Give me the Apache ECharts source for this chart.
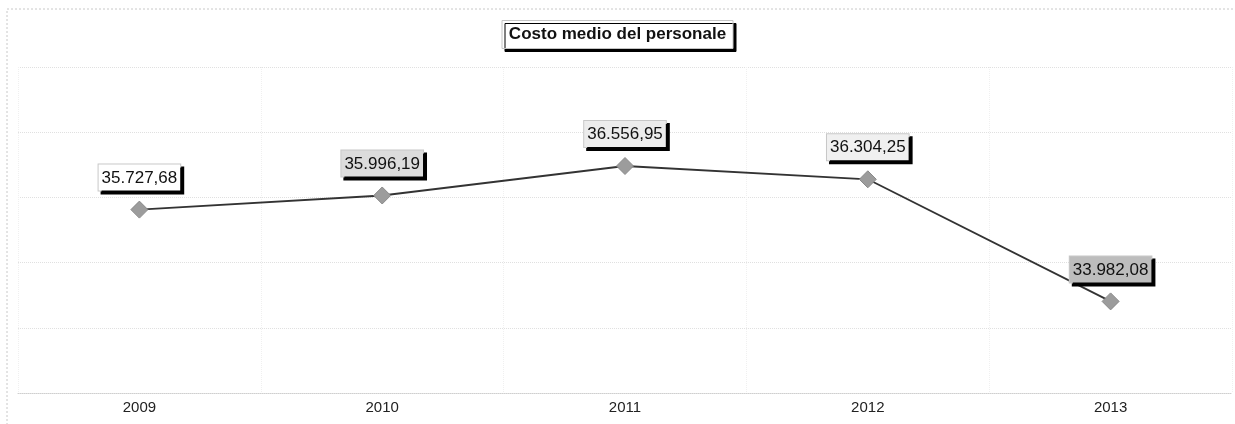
<!DOCTYPE html>
<html><head><meta charset="utf-8">
<script src="https://cdn.jsdelivr.net/npm/echarts@6/dist/echarts.min.js"></script>
<style>html,body{margin:0;padding:0;background:#fff}#c{width:1235px;height:424px}</style>
</head><body><div id="c"></div>
<script>
const categories = ['2009','2010','2011','2012','2013'];
const values = [35727.68, 35996.19, 36556.95, 36304.25, 33982.08];
const labelBg = ['#ffffff','#dcdcdc','#ececec','#f0f0f0','#bdbdbd'];
const titleText = 'Costo medio del personale';

function fmt(v){
  const parts = v.toFixed(2).split('.');
  const int = parts[0].replace(/\B(?=(\d{3})+(?!\d))/g,'.');
  return int + ',' + parts[1];
}

const chart = echarts.init(document.getElementById('c'), null, {renderer:'canvas'});
chart.setOption({
  animation:false,
  backgroundColor:'#fff',
  title:{
    text:titleText, left:'center', top:20,
    padding:[6,7,6,7],
    backgroundColor:'#fff', borderColor:'#c4c4c4', borderWidth:1,
    shadowColor:'#000', shadowOffsetX:3, shadowOffsetY:3, shadowBlur:0,
    textStyle:{fontFamily:'Liberation Sans, Arial', fontSize:17, fontWeight:'bold', color:'#111'}
  },
  graphic:[{
    type:'rect', shape:{x:7,y:9,width:1240,height:430}, silent:true,
    style:{fill:'none', stroke:'#c8c8c8', lineWidth:1, lineDash:[2,2]}
  }],
  grid:{left:18, top:67, width:1214, height:326},
  xAxis:{
    type:'category', data:categories, boundaryGap:true,
    axisLine:{show:true, lineStyle:{color:'#cfcfcf', type:'dotted'}},
    axisTick:{show:false},
    axisLabel:{color:'#222', fontSize:15, fontFamily:'Liberation Sans, Arial', margin:7},
    splitLine:{show:true, lineStyle:{color:'#f0f0f0', type:'dotted'}}
  },
  yAxis:{
    type:'value', min:32240, max:38440, interval:1240,
    axisLine:{show:false}, axisTick:{show:false}, axisLabel:{show:false},
    splitLine:{show:true, lineStyle:{color:'#e0e0e0', type:'dotted'}}
  },
  series:[{
    type:'line',
    data:values.map((v,i)=>({value:v, label:{backgroundColor:labelBg[i]}})),
    symbol:'diamond', symbolSize:17,
    itemStyle:{color:'#9c9c9c', borderColor:'#8a8a8a', borderWidth:1},
    lineStyle:{color:'#333', width:1.8},
    label:{
      show:true, position:'top', distance:10,
      formatter:p=>fmt(p.value),
      color:'#111', fontSize:17, fontFamily:'Liberation Sans, Arial',
      padding:[5,3,4,3], borderColor:'#c8c8c8', borderWidth:1,
      shadowColor:'#000', shadowOffsetX:3, shadowOffsetY:3, shadowBlur:0
    }
  }]
});
</script></body></html>
